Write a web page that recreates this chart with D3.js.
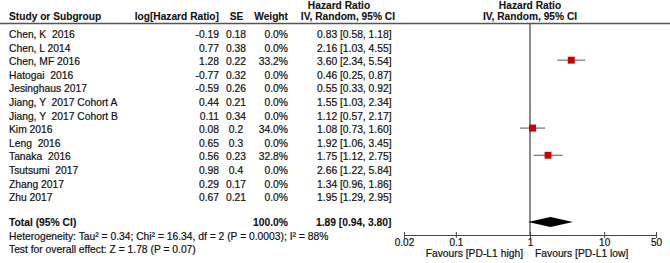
<!DOCTYPE html>
<html lang="en">
<head>
<meta charset="UTF-8">
<title>Forest plot</title>
<script src="https://d3js.org/d3.v7.min.js"></script>
<style>
    body { margin: 0; background: #fff; }
    svg { font-family: "Liberation Sans", Arial, sans-serif; font-size: 10.3px; }
    svg text { white-space: pre; fill: #111; stroke: #111; stroke-width: 0.2px; }
    .hdr text { font-weight: bold; font-size: 10.2px; stroke-width: 0.1px; }
    .tot text { font-weight: bold; stroke-width: 0.1px; }
</style>
</head>
<body>
<svg id="chart"></svg>
<script>
// study data
const studies = ["Chen, K  2016", "Chen, L 2014", "Chen, MF 2016", "Hatogai  2016", "Jesinghaus 2017",
    "Jiang, Y  2017 Cohort A", "Jiang, Y  2017 Cohort B", "Kim 2016", "Leng  2016", "Tanaka  2016",
    "Tsutsumi  2017", "Zhang 2017", "Zhu 2017"];
const logHR = ["-0.19", "0.77", "1.28", "-0.77", "-0.59", "0.44", "0.11", "0.08", "0.65", "0.56", "0.98", "0.29", "0.67"];
const se = ["0.18", "0.38", "0.22", "0.32", "0.26", "0.21", "0.34", "0.2", "0.3", "0.23", "0.4", "0.17", "0.21"];
const weight = [0, 0, 33.2, 0, 0, 0, 0, 34.0, 0, 32.8, 0, 0, 0];
const hr = [0.83, 2.16, 3.60, 0.46, 0.55, 1.55, 1.12, 1.08, 1.92, 1.75, 2.66, 1.34, 1.95];
const lo = [0.58, 1.03, 2.34, 0.25, 0.33, 1.03, 0.57, 0.73, 1.06, 1.12, 1.22, 0.96, 1.29];
const hi = [1.18, 4.55, 5.54, 0.87, 0.92, 2.34, 2.17, 1.60, 3.45, 2.75, 5.84, 1.86, 2.95];

const total = { hr: 1.89, lo: 0.94, hi: 3.80, weight: 100.0 };
const heterogeneity = "Heterogeneity: Tau\u00b2 = 0.34; Chi\u00b2 = 16.34, df = 2 (P = 0.0003); I\u00b2 = 88%";
const overall = "Test for overall effect: Z = 1.78 (P = 0.07)";
const tickValues = [0.02, 0.1, 1, 10, 50];

const width = 670, height = 263;
const svg = d3.select("#chart").attr("width", width).attr("height", height);

const x = d3.scaleLog().domain([0.02, 50]).range([404, 656]);
const y = d3.scalePoint().domain(d3.range(studies.length)).range([34.5, 197.5]);
const size = d3.scaleSqrt().domain([0, 34]).range([0, 7]);
const f2 = d3.format(".2f");
const ci = (a, b, c) => `${f2(a)} [${f2(b)}, ${f2(c)}]`;

// header
const hdr = svg.append("g").attr("class", "hdr");
hdr.append("text").attr("x", 9).attr("y", 20).text("Study or Subgroup");
hdr.append("text").attr("x", 219).attr("y", 20).attr("text-anchor", "end").text("log[Hazard Ratio]");
hdr.append("text").attr("x", 236.5).attr("y", 20).attr("text-anchor", "middle").text("SE");
hdr.append("text").attr("x", 288).attr("y", 20).attr("text-anchor", "end").text("Weight");
hdr.append("text").attr("x", 339).attr("y", 9).attr("text-anchor", "middle").text("Hazard Ratio");
hdr.append("text").attr("x", 395).attr("y", 20).attr("text-anchor", "end").text("IV, Random, 95% CI");
hdr.append("text").attr("x", 530).attr("y", 9).attr("text-anchor", "middle").text("Hazard Ratio");
hdr.append("text").attr("x", 530).attr("y", 20).attr("text-anchor", "middle").text("IV, Random, 95% CI");

svg.append("line").attr("x1", 0).attr("x2", width).attr("y1", 23.5).attr("y2", 23.5)
    .attr("stroke", "#555").attr("stroke-width", 1.5);

// null line
svg.append("line").attr("x1", x(1)).attr("x2", x(1)).attr("y1", 23.5).attr("y2", 235)
    .attr("stroke", "#666").attr("stroke-width", 1.5);

// study rows
const rows = svg.append("g").selectAll("g").data(studies).join("g")
    .attr("transform", (d, i) => `translate(0,${y(i)})`);
rows.append("text").attr("x", 9).attr("dy", "0.35em").text(d => d);
rows.append("text").attr("x", 219).attr("dy", "0.35em").attr("text-anchor", "end").text((d, i) => logHR[i]);
rows.append("text").attr("x", 236).attr("dy", "0.35em").attr("text-anchor", "middle").text((d, i) => se[i]);
rows.append("text").attr("x", 288).attr("dy", "0.35em").attr("text-anchor", "end").text((d, i) => weight[i].toFixed(1) + "%");
rows.append("text").attr("x", 391.5).attr("dy", "0.35em").attr("text-anchor", "end").text((d, i) => ci(hr[i], lo[i], hi[i]));

// CI lines and squares only for weighted studies
const marks = rows.filter((d, i) => weight[i] > 0);
marks.append("line")
    .attr("x1", d => x(lo[studies.indexOf(d)]))
    .attr("x2", d => x(hi[studies.indexOf(d)]))
    .attr("y1", -1.5).attr("y2", -1.5)
    .attr("stroke", "#555").attr("stroke-width", 1);
marks.append("rect")
    .attr("x", d => x(hr[studies.indexOf(d)]) - size(weight[studies.indexOf(d)]) / 2)
    .attr("y", d => -1.5 - size(weight[studies.indexOf(d)]) / 2)
    .attr("width", d => size(weight[studies.indexOf(d)]))
    .attr("height", d => size(weight[studies.indexOf(d)]))
    .attr("fill", "#cc0000");

// total row
const yt = 222;
const tot = svg.append("g").attr("class", "tot");
tot.append("text").attr("x", 9).attr("y", yt).attr("dy", "0.35em").text("Total (95% CI)");
tot.append("text").attr("x", 288).attr("y", yt).attr("dy", "0.35em").attr("text-anchor", "end").text(total.weight.toFixed(1) + "%");
tot.append("text").attr("x", 391.5).attr("y", yt).attr("dy", "0.35em").attr("text-anchor", "end").text(ci(total.hr, total.lo, total.hi));

svg.append("path")
    .attr("d", `M${x(total.lo)},${yt}L${x(total.hr)},${yt - 5}L${x(total.hi)},${yt}L${x(total.hr)},${yt + 5}Z`)
    .attr("fill", "#000");

svg.append("text").attr("x", 9).attr("y", 240).text(heterogeneity);
svg.append("text").attr("x", 9).attr("y", 252.5).text(overall);

// axis
const axis = svg.append("g").attr("transform", "translate(0,235)")
    .call(d3.axisBottom(x).tickValues(tickValues).tickFormat(d => String(d)).tickSize(3).tickPadding(2).tickSizeOuter(0));
axis.select(".domain").attr("stroke", "#444");
axis.selectAll(".tick line").attr("y1", -3).attr("stroke", "#444");
axis.selectAll(".tick text").attr("font-size", null).attr("font-family", null).attr("dy", null).attr("y", 11);

svg.append("text").attr("x", x(1) - 7).attr("y", 256.5).attr("text-anchor", "end").text("Favours [PD-L1 high]");
svg.append("text").attr("x", x(1) + 5).attr("y", 256.5).text("Favours [PD-L1 low]");
</script>
</body>
</html>
